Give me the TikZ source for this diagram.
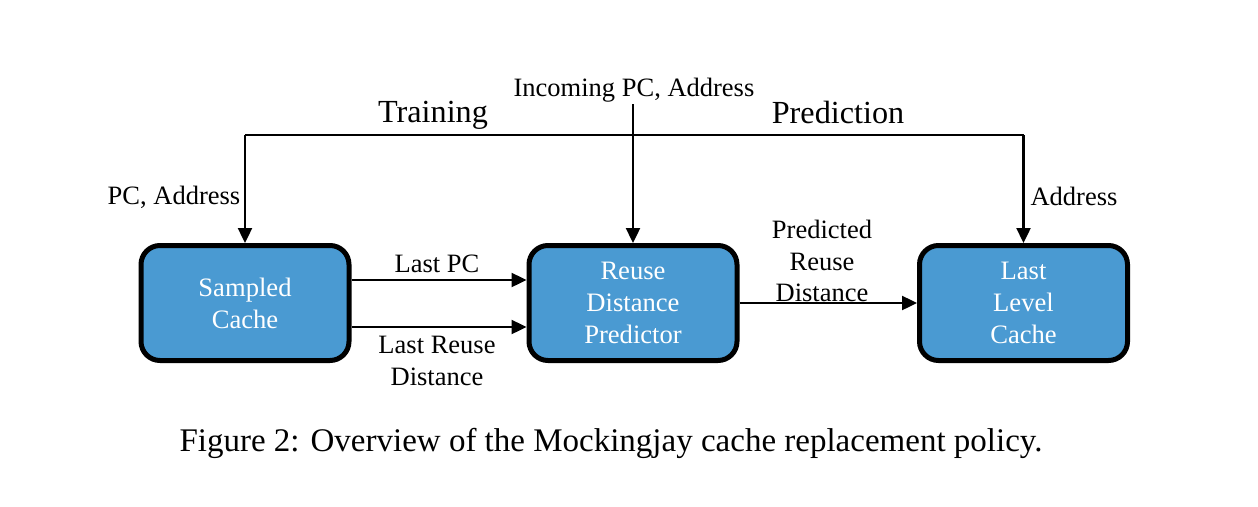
\documentclass[tikz,border=0pt]{standalone}
\usepackage{fontspec}
\setmainfont{Liberation Serif}
\usetikzlibrary{arrows.meta}
\definecolor{boxblue}{RGB}{74,154,210}
\begin{document}
\begin{tikzpicture}[x=1pt,y=-1pt,
  blk/.style={draw=black,line width=5pt,fill=boxblue,rounded corners=19pt,
    minimum width=208pt,minimum height=115pt,text=white,align=center,
    font=\fontsize{26.6}{32}\selectfont,inner sep=0pt},
  lbl/.style={font=\fontsize{26.5}{31.5}\selectfont,align=center,inner sep=0pt},
  big/.style={font=\fontsize{32.2}{36}\selectfont,inner sep=0pt},
  conn/.style={line width=2.4pt,-{Triangle[length=15pt,width=14pt]}},
  plain/.style={line width=2.4pt}]
\useasboundingbox (0,0) rectangle (1258,506);
\node[blk] (sc) at (245,303) {Sampled\\Cache};
\node[blk] (rdp) at (633,303) {Reuse\\Distance\\Predictor};
\node[blk] (llc) at (1023.5,303) {Last\\Level\\Cache};
\coordinate (tl) at (245,135);
\coordinate (tr) at (1023.5,135);
\coordinate (inc) at (633,104);
\draw[plain] (tl) -- (tr);
\draw[conn] (tl) -- (sc.north);
\draw[conn] (tr) -- (llc.north);
\draw[conn] (inc) -- (rdp.north);
\draw[conn] (sc.east |- 0,280) -- (rdp.west |- 0,280);
\draw[conn] (sc.east |- 0,327) -- (rdp.west |- 0,327);
\draw[conn] (rdp.east) -- (llc.west);
\node[lbl] (tinc) at (634,90) {Incoming PC, Address};
\node[big] (ttr) at (433,115) {Training};
\node[big] (tpr) at (838,112) {Prediction};
\node[lbl] (tpca) at (174,197) {PC, Address};
\node[lbl] (tad) at (1074,196) {Address};
\node[lbl] (tlpc) at (437,264) {Last PC};
\node[lbl] (tlrd) at (437,361) {Last Reuse\\Distance};
\node[lbl] (tprd) at (822,261) {Predicted\\Reuse\\Distance};
\node[font=\fontsize{33}{38}\selectfont,inner sep=0pt] (cap) at (611,443) {Figure 2: Overview of the Mockingjay cache replacement policy.};
\end{tikzpicture}
\end{document}
